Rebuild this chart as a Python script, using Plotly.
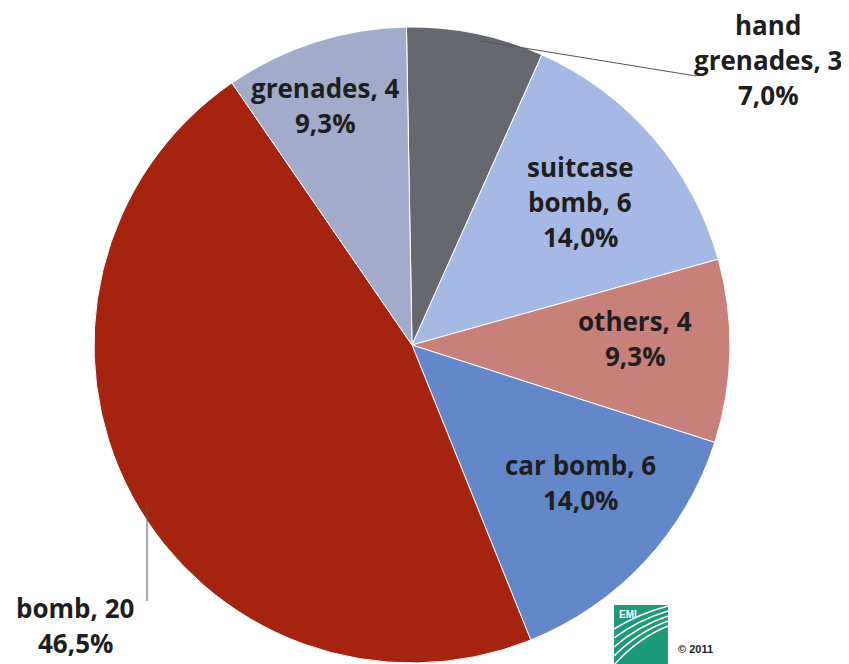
import plotly.graph_objects as go

labels = ["hand grenades", "suitcase bomb", "others", "car bomb", "bomb", "grenades"]
values = [3, 6, 4, 6, 20, 4]
colors = ["#65686e", "#a6b8e4", "#c8807a", "#6387c9", "#a6240f", "#a2abc9"]
label_lines = [
    ["hand", "grenades, 3", "7,0%"],
    ["suitcase", "bomb, 6", "14,0%"],
    ["others, 4", "9,3%"],
    ["car bomb, 6", "14,0%"],
    ["bomb, 20", "46,5%"],
    ["grenades, 4", "9,3%"],
]
# (center x, first-line baseline y) in pixels
label_pos = [(768, 33), (580, 175), (635, 329), (580, 473), (75, 616), (325, 96)]
line_gap = 35

W, H = 849, 664
cx, cy, r = 404, 337, 318
FS = 26

fig = go.Figure()
fig.add_trace(go.Pie(
    labels=labels, values=values, sort=False, direction="clockwise", rotation=-1,
    marker=dict(colors=colors, line=dict(color="white", width=1)),
    textinfo="none", hoverinfo="label+value+percent", showlegend=False,
    domain=dict(x=[(cx - r) / W, (cx + r) / W], y=[1 - (cy + r) / H, 1 - (cy - r) / H]),
))

font = dict(family="Open Sans, sans-serif", size=FS, color="#1e1e1e", weight="bold")
for lines, (x, y) in zip(label_lines, label_pos):
    for k, t in enumerate(lines):
        yy = y + k * line_gap - 0.3 * FS - 8
        fig.add_annotation(x=x / W, y=1 - yy / H, xref="paper", yref="paper", text=t, xshift=-8,
                           showarrow=False, font=font, xanchor="center", yanchor="middle")

shapes = [
    dict(type="line", xref="paper", yref="paper", x0=473 / W, y0=1 - 33 / H, x1=688 / W, y1=1 - 68 / H,
         line=dict(color="#555555", width=1)),
    dict(type="line", xref="paper", yref="paper", x0=139 / W, y0=1 - 498 / H, x1=139 / W, y1=1 - 593 / H,
         line=dict(color="#555555", width=1)),
    dict(type="rect", xref="paper", yref="paper", x0=606 / W, y0=1 - 657 / H, x1=660 / W, y1=1 - 597 / H,
         fillcolor="#1f9a78", line=dict(width=0)),
]
for i in range(5):
    shapes.append(dict(type="path", xref="paper", yref="paper",
                       path=f"M {606/W},{1-(657-i*9)/H} Q {630/W},{1-(630-i*6)/H} {660/W},{1-(618-i*5)/H}",
                       line=dict(color="white", width=1.5)))
fig.update_layout(shapes=shapes)
fig.add_annotation(x=609 / W, y=1 - 606 / H, xref="paper", yref="paper", text="EMI", showarrow=False,
                   font=dict(family="Liberation Sans", size=10, color="white", weight="bold"),
                   xanchor="left", yanchor="middle")
fig.add_annotation(x=668 / W, y=1 - 641 / H, xref="paper", yref="paper", text="© 2011", showarrow=False,
                   font=dict(family="Liberation Sans", size=11, color="#222222", weight="bold"),
                   xanchor="left", yanchor="middle")

fig.update_layout(width=W, height=H, margin=dict(l=0, r=0, t=0, b=0),
                  paper_bgcolor="white", plot_bgcolor="white")
fig.write_html("out.html")
